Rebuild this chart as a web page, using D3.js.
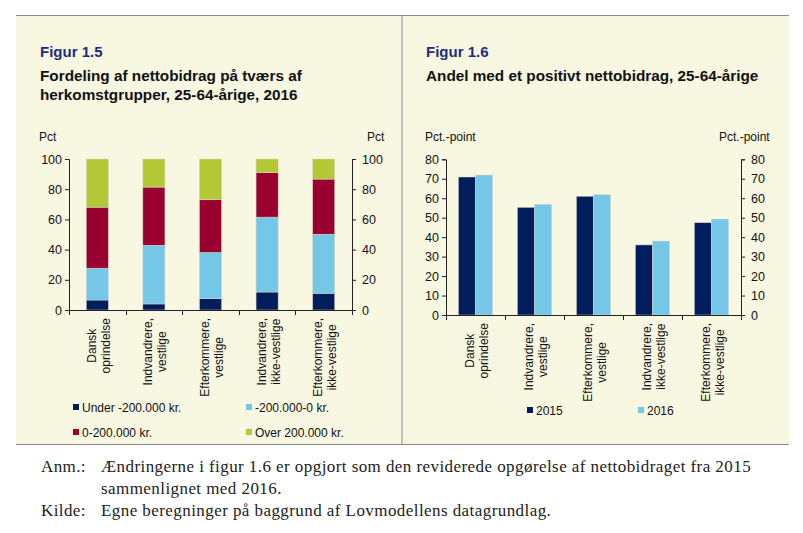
<!DOCTYPE html>
<html>
<head>
<meta charset="utf-8">
<script src="https://cdn.jsdelivr.net/npm/d3@7"></script>
<style>
  body { margin: 0; background: #fff; }
  svg { display: block; }
</style>
</head>
<body>
<svg id="chart" width="803" height="533"></svg>
<script>
// --- data -------------------------------------------------------------
const categories = [
  ["Dansk", "oprindelse"],
  ["Indvandrere,", "vestlige"],
  ["Efterkommere,", "vestlige"],
  ["Indvandrere,", "ikke-vestlige"],
  ["Efterkommere,", "ikke-vestlige"]
];

// Figur 1.5 - share of each net contribution bracket (pct)
const bracketNames = ["Under -200.000 kr.", "-200.000-0 kr.", "0-200.000 kr.", "Over 200.000 kr."];
const under200 = [6.6, 4.0, 7.5, 11.9, 11.1];
const minus200to0 = [21.1, 38.9, 30.6, 49.6, 39.1];
const zeroTo200 = [40.4, 38.5, 34.9, 29.4, 36.5];
const over200 = [31.9, 18.6, 27.0, 9.1, 13.3];

// Figur 1.6 - share with positive net contribution
const years = ["2015", "2016"];
const share2015 = [70.9, 55.3, 61.0, 36.0, 47.4];
const share2016 = [71.9, 56.9, 61.8, 38.0, 49.3];

const ticksLeft = [0, 20, 40, 60, 80, 100];
const ticksRight = [0, 10, 20, 30, 40, 50, 60, 70, 80];

// colours
const navy = "#011d5c";
const sky = "#74c7e6";
const wine = "#99002f";
const lime = "#b3c834";
const cream = "#f8f7e1";
const font = "'Liberation Sans', Arial, sans-serif";

const svg = d3.select("#chart");

// --- frame ------------------------------------------------------------
svg.append("rect").attr("x", 16).attr("y", 15).attr("width", 773).attr("height", 429).attr("fill", cream);
svg.append("line").attr("x1", 16).attr("x2", 789).attr("y1", 15.5).attr("y2", 15.5).attr("stroke", "#8a8a8a");
svg.append("line").attr("x1", 16).attr("x2", 789).attr("y1", 444.5).attr("y2", 444.5).attr("stroke", "#8a8a8a");
svg.append("line").attr("x1", 402).attr("x2", 402).attr("y1", 15).attr("y2", 444).attr("stroke", "#8a8a8a");

// titles
function title(x, fig, lines) {
  svg.append("text").attr("x", x).attr("y", 57).text(fig)
    .attr("font-family", font).attr("font-size", 15).attr("font-weight", "bold").attr("fill", "#1b2d7c");
  lines.forEach((t, i) => {
    svg.append("text").attr("x", x).attr("y", 81 + i * 19).text(t)
      .attr("font-family", font).attr("font-size", 15.3).attr("font-weight", "bold").attr("fill", "#111");
  });
}
title(40, "Figur 1.5", ["Fordeling af nettobidrag på tværs af", "herkomstgrupper, 25-64-årige, 2016"]);
title(426, "Figur 1.6", ["Andel med et positivt nettobidrag, 25-64-årige"]);

// shared helpers
function txt(g, x, y, s, anchor) {
  return g.append("text").attr("x", x).attr("y", y).text(s)
    .attr("font-family", font).attr("font-size", 12).attr("fill", "#111")
    .attr("text-anchor", anchor || "start");
}

function drawAxes(x0, x1, y, tickVals) {
  const g = svg.append("g");
  const yAxisL = d3.axisLeft(y).tickValues(tickVals).tickSize(4).tickPadding(3);
  const yAxisR = d3.axisRight(y).tickValues(tickVals).tickSize(4).tickPadding(6);
  g.append("g").attr("transform", `translate(${x0},0)`).call(yAxisL);
  g.append("g").attr("transform", `translate(${x1},0)`).call(yAxisR);
  g.selectAll("text").attr("font-family", font).attr("font-size", 12.5).attr("fill", "#111");
  g.selectAll("path, line").attr("stroke", "#222");
  return g;
}

function categoryAxis(x0, x1, yBase, band, dy1, dy2) {
  const g = svg.append("g");
  // x axis line + ticks at category boundaries
  g.append("line").attr("x1", x0).attr("x2", x1).attr("y1", yBase + 0.5).attr("y2", yBase + 0.5).attr("stroke", "#222");
  const step = band.step();
  d3.range(categories.length + 1).forEach(i => {
    const xx = Math.round(x0 + i * step) + 0.5;
    g.append("line").attr("x1", xx).attr("x2", xx).attr("y1", yBase).attr("y2", yBase + 5).attr("stroke", "#222");
  });
  categories.forEach((lines, i) => {
    const cx = band(i) + band.bandwidth() / 2;
    const lg = g.append("g").attr("transform", `translate(${cx},${yBase + 8}) rotate(-90)`);
    const texts = lines.map((s, j) => txt(lg, 0, j === 0 ? dy1 : dy2, s, "middle"));
    const maxW = d3.max(texts, t => t.node().getComputedTextLength());
    texts.forEach(t => t.attr("x", -maxW / 2));
  });
}

function legendItem(x, y, color, label) {
  svg.append("rect").attr("x", x).attr("y", y - 3).attr("width", 6).attr("height", 6).attr("fill", color);
  txt(svg, x + 9, y + 4.5, label);
}

// --- Figur 1.5 --------------------------------------------------------
{
  const x0 = 69, x1 = 352, yTop = 159, yBase = 310;
  const y = d3.scaleLinear().domain([0, 100]).range([yBase, yTop]);
  const band = d3.scaleBand().domain(d3.range(categories.length)).range([x0, x1])
    .paddingInner(0.61).paddingOuter(0.305);

  const rows = categories.map((c, i) => ({
    i, b0: under200[i], b1: minus200to0[i], b2: zeroTo200[i], b3: over200[i]
  }));
  const series = d3.stack().keys(["b0", "b1", "b2", "b3"])(rows);
  const colors = [navy, sky, wine, lime];

  const g = svg.append("g");
  series.forEach((s, k) => {
    g.selectAll(null).data(s).join("rect")
      .attr("x", d => band(d.data.i))
      .attr("width", band.bandwidth())
      .attr("y", d => y(d[1]))
      .attr("height", d => y(d[0]) - y(d[1]))
      .attr("fill", colors[k])
      .attr("stroke", "#d9d6cc").attr("stroke-width", 0.5);
  });

  drawAxes(x0, x1, y, ticksLeft);
  categoryAxis(x0, x1, yBase, band, -1.5, 12.5);

  txt(svg, 39, 141, "Pct");
  txt(svg, 367, 141, "Pct");

  legendItem(73, 407, navy, bracketNames[0]);
  legendItem(246, 407, sky, bracketNames[1]);
  legendItem(73, 432, wine, bracketNames[2]);
  legendItem(246, 432, lime, bracketNames[3]);
}

// --- Figur 1.6 --------------------------------------------------------
{
  const x0 = 446, x1 = 741, yTop = 159.3, yBase = 315;
  const y = d3.scaleLinear().domain([0, 80]).range([yBase, yTop]);
  const band = d3.scaleBand().domain(d3.range(categories.length)).range([x0, x1])
    .paddingInner(0.42).paddingOuter(0.21);
  const inner = d3.scaleBand().domain(years).range([0, band.bandwidth()]);
  const vals = { "2015": share2015, "2016": share2016 };
  const colors = { "2015": navy, "2016": sky };

  const g = svg.append("g");
  years.forEach(yr => {
    g.selectAll(null).data(vals[yr]).join("rect")
      .attr("x", (d, i) => band(i) + inner(yr))
      .attr("width", inner.bandwidth())
      .attr("y", d => y(d))
      .attr("height", d => yBase - y(d))
      .attr("fill", colors[yr])
      .attr("stroke", "#d9d6cc").attr("stroke-width", 0.5);
  });

  drawAxes(x0, x1, y, ticksRight);
  categoryAxis(x0, x1, yBase, band, -2, 12.5);

  txt(svg, 425, 141, "Pct.-point");
  txt(svg, 719, 141, "Pct.-point");

  legendItem(527, 410, navy, years[0]);
  legendItem(638, 410, sky, years[1]);
}

// --- notes ------------------------------------------------------------
const serif = "'Liberation Serif', 'Times New Roman', serif";
const notes = [
  { lab: "Anm.:", y: 472, text: "Ændringerne i figur 1.6 er opgjort som den reviderede opgørelse af nettobidraget fra 2015" },
  { lab: "", y: 494, text: "sammenlignet med 2016." },
  { lab: "Kilde:", y: 516, text: "Egne beregninger på baggrund af Lovmodellens datagrundlag." }
];
notes.forEach(n => {
  svg.append("text").attr("x", 41).attr("y", n.y).text(n.lab)
    .attr("font-family", serif).attr("font-size", 17).attr("letter-spacing", 0.4).attr("fill", "#222");
  svg.append("text").attr("x", 101).attr("y", n.y).text(n.text)
    .attr("font-family", serif).attr("font-size", 17).attr("letter-spacing", 0.43).attr("fill", "#222");
});
</script>
</body>
</html>
